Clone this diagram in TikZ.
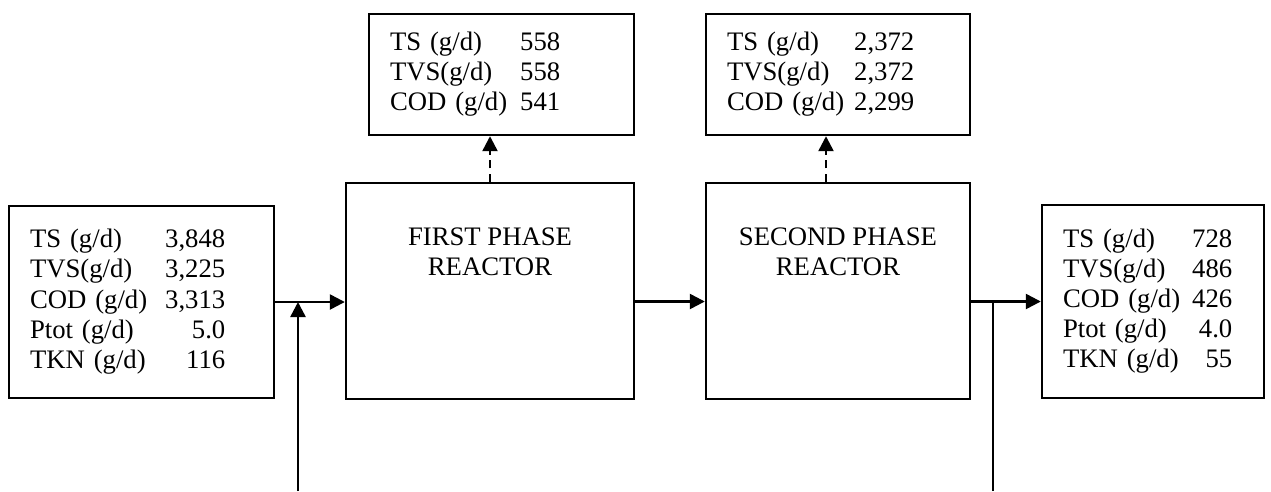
\documentclass[tikz,border=0pt]{standalone}
\usepackage{fontspec}
\setmainfont{Liberation Serif}
\usetikzlibrary{arrows.meta,calc,positioning}

\begin{document}
\begin{tikzpicture}[x=0.02cm,y=-0.02cm,>={Triangle[length=0.3cm,width=0.3cm]}]

    \tikzstyle{commonNode}=[draw=black, line width=1.4pt, rectangle, inner sep=0pt, font=\fontsize{15.2}{17.1}\selectfont]
    \tikzstyle{dataBox}=[commonNode, align=left, inner xsep=0.42cm]
    \tikzstyle{reactor}=[commonNode, minimum height=4.32cm]
    \tikzstyle{flow}=[line width=1.4pt, ->]
    \tikzstyle{gasFlow}=[flow, dash pattern=on 4.5pt off 3.2pt]

    % Page size
    \useasboundingbox (0,0) rectangle (1271,491);

    % Reactors
    \node at (490, 291) [reactor, minimum width=5.76cm] (R1)
        {\parbox[c][4.32cm][t]{5.76cm}{\centering\vspace*{0.9cm}FIRST PHASE\\REACTOR}};
    \node at (838, 291) [reactor, minimum width=5.28cm] (R2)
        {\parbox[c][4.32cm][t]{5.28cm}{\centering\vspace*{0.9cm}SECOND PHASE\\REACTOR}};

    % Influent and effluent
    \node at (141.5, 302) [dataBox, text width=4.46cm, minimum height=3.84cm] (inbox) {%
        \begin{tabular}{@{}l@{\hspace{0.36cm}}r@{}}
            TS (g/d)   & 3,848 \\
            TVS(g/d)   & 3,225 \\
            COD (g/d)  & 3,313 \\
            Ptot (g/d) & 5.0   \\
            TKN (g/d)  & 116
        \end{tabular}};
    \node at (1153, 301.5) [dataBox, text width=3.60cm, minimum height=3.86cm] (outbox) {%
        \begin{tabular}{@{}l@{\hspace{0.24cm}}r@{}}
            TS (g/d)   & 728 \\
            TVS(g/d)   & 486 \\
            COD (g/d)  & 426 \\
            Ptot (g/d) & 4.0 \\
            TKN (g/d)  & 55
        \end{tabular}};

    % Biogas
    \node at (501.5, 74.5) [dataBox, text width=4.46cm, minimum height=2.42cm] (gas1) {%
        \begin{tabular}{@{}l@{\hspace{0.26cm}}l@{}}
            TS (g/d)  & 558 \\
            TVS(g/d)  & 558 \\
            COD (g/d) & 541
        \end{tabular}};
    \node at (838, 74.5) [dataBox, text width=4.44cm, minimum height=2.42cm] (gas2) {%
        \begin{tabular}{@{}l@{\hspace{0.2cm}}r@{}}
            TS (g/d)  & 2,372 \\
            TVS(g/d)  & 2,372 \\
            COD (g/d) & 2,299
        \end{tabular}};

    % Loose ends
    \coordinate (feed) at (298, 491);
    \coordinate (drain) at (993, 491);

    % Connectors
    \draw[flow] (inbox.east) -- (inbox.east -| R1.west);
    \draw[flow] (feed) -- (feed |- inbox.east);
    \draw[flow] (R1.east |- outbox.west) -- (R2.west |- outbox.west);
    \draw[flow] (R2.east |- outbox.west) -- (outbox.west);
    \draw[line width=1.4pt] (drain) -- (drain |- outbox.west);
    \draw[gasFlow] (R1.north) -- (R1.north |- gas1.south);
    \draw[gasFlow] ([xshift=-0.24cm]R2.north) -- ([xshift=-0.24cm]R2.north |- gas2.south);
\end{tikzpicture}
\end{document}
